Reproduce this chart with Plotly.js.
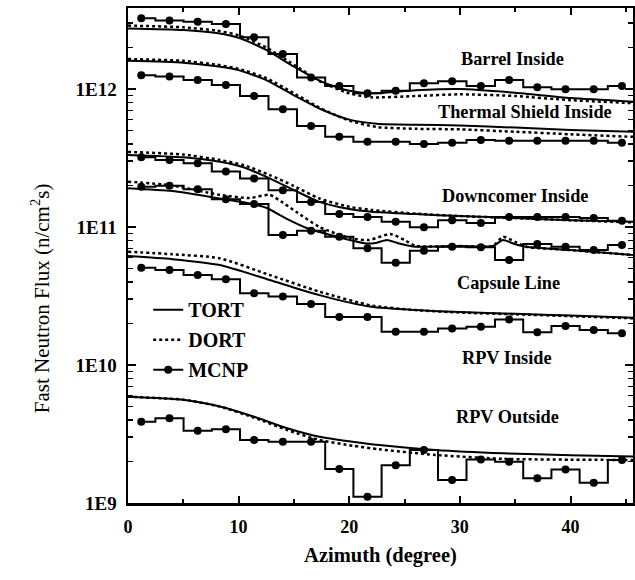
<!DOCTYPE html>
<html>
<head>
<meta charset="utf-8">
<script src="https://cdn.plot.ly/plotly-3.0.1.min.js"></script>
<style>html,body{margin:0;padding:0;background:#fff;}#chart{width:635px;height:580px;}</style>
</head>
<body>
<div id="chart"></div>
<script>
// MCNP tally bin centres (degrees)
const mcnpAz = [1.2, 3.75, 6.3, 8.85, 11.4, 14.0, 16.55, 19.1, 21.65, 24.2, 26.75, 29.3, 31.9, 34.45, 37.0, 39.55, 42.1, 44.65];

// Barrel Inside
const barrelAz = [0, 5, 8, 10, 12.5, 15, 17.5, 20, 22, 26, 30, 35, 40, 45.65];
const barrelTort = [2.75e12, 2.68e12, 2.55e12, 2.35e12, 1.92e12, 1.45e12, 1.13e12, 9.7e11, 9.3e11, 9.8e11, 1.0e12, 9.4e11, 8.6e11, 8.1e11];
const barrelDort = [2.88e12, 2.8e12, 2.65e12, 2.45e12, 2.0e12, 1.5e12, 1.12e12, 9.3e11, 8.7e11, 8.9e11, 9.15e11, 8.9e11, 8.3e11, 7.9e11];
const barrelMcnp = [3.25e12, 3.13e12, 3.07e12, 2.96e12, 2.37e12, 1.79e12, 1.21e12, 1.05e12, 9.3e11, 9.7e11, 1.10e12, 1.14e12, 1.05e12, 1.16e12, 1.03e12, 9.95e11, 9.95e11, 1.05e12];

// Thermal Shield Inside
const thermalAz = [0, 5, 8, 10, 12.5, 15, 17.5, 20, 22.5, 26, 30, 35, 40, 45.65];
const thermalTort = [1.6e12, 1.55e12, 1.46e12, 1.37e12, 1.16e12, 9.0e11, 7.1e11, 6.0e11, 5.6e11, 5.5e11, 5.45e11, 5.25e11, 5.05e11, 4.9e11];
const thermalDort = [1.65e12, 1.6e12, 1.5e12, 1.4e12, 1.2e12, 9.3e11, 7.2e11, 5.9e11, 5.3e11, 5.15e11, 5.1e11, 4.9e11, 4.7e11, 4.5e11];
const thermalMcnp = [1.26e12, 1.23e12, 1.16e12, 1.07e12, 8.9e11, 7.13e11, 5.4e11, 4.5e11, 4.15e11, 4.15e11, 3.99e11, 4.08e11, 4.27e11, 4.22e11, 4.22e11, 4.22e11, 4.22e11, 4.08e11];

// Downcomer Inside
const downAz = [0, 5, 8.3, 10.5, 12.8, 15, 17.3, 20, 22, 26, 30, 35, 40, 45.65];
const downTort = [3.33e11, 3.2e11, 2.97e11, 2.7e11, 2.25e11, 1.85e11, 1.52e11, 1.35e11, 1.29e11, 1.24e11, 1.2e11, 1.16e11, 1.12e11, 1.09e11];
const downDort = [3.5e11, 3.35e11, 3.06e11, 2.8e11, 2.38e11, 1.98e11, 1.61e11, 1.4e11, 1.33e11, 1.25e11, 1.2e11, 1.16e11, 1.12e11, 1.08e11];
const downMcnp = [3.20e11, 3.06e11, 2.90e11, 2.52e11, 2.25e11, 1.85e11, 1.52e11, 1.24e11, 1.18e11, 1.09e11, 9.95e10, 1.12e11, 1.07e11, 1.18e11, 1.18e11, 1.18e11, 1.16e11, 1.11e11];

// Capsule Line
const capTortAz = [0, 4, 8.3, 11, 12.5, 14.4, 16.2, 18.9, 21.5, 22.5, 23.4, 24.5, 26, 30, 33, 33.9, 35, 36, 40, 45.65];
const capTort = [1.91e11, 1.82e11, 1.61e11, 1.48e11, 1.38e11, 1.14e11, 9.8e10, 8.5e10, 7.6e10, 7.7e10, 8.05e10, 7.6e10, 7.2e10, 7.28e10, 7.28e10, 8.05e10, 7.5e10, 7.2e10, 6.8e10, 6.27e10];
const capDortAz = [0, 3.8, 8.3, 11, 12.8, 14, 15.2, 17.3, 20.1, 21.8, 23.7, 25, 26, 30, 33, 33.9, 35, 36, 40, 45.65];
const capDort = [2.13e11, 2.01e11, 1.71e11, 1.62e11, 1.71e11, 1.5e11, 1.29e11, 1.0e11, 8.3e10, 8.05e10, 8.9e10, 8.05e10, 7.3e10, 7.28e10, 7.3e10, 8.5e10, 7.8e10, 7.2e10, 6.8e10, 6.27e10];
const capMcnp = [1.96e11, 1.99e11, 1.88e11, 1.59e11, 1.47e11, 8.75e10, 9.4e10, 8.5e10, 7.01e10, 5.51e10, 6.73e10, 7.2e10, 7.13e10, 5.77e10, 7.53e10, 7.2e10, 6.81e10, 7.41e10];

// RPV Inside
const rpvInAz = [0, 4, 8.3, 12.8, 17.3, 22, 26, 30, 35, 40, 45.65];
const rpvInTort = [6.16e10, 5.85e10, 5.3e10, 4.13e10, 3.21e10, 2.64e10, 2.5e10, 2.42e10, 2.35e10, 2.28e10, 2.2e10];
const rpvInDort = [6.62e10, 6.35e10, 5.93e10, 4.49e10, 3.4e10, 2.7e10, 2.5e10, 2.4e10, 2.33e10, 2.26e10, 2.18e10];
const rpvInMcnp = [5.07e10, 4.88e10, 4.49e10, 4.18e10, 3.31e10, 3.13e10, 2.77e10, 2.23e10, 2.23e10, 1.74e10, 1.74e10, 1.84e10, 1.89e10, 2.14e10, 1.73e10, 1.92e10, 1.79e10, 1.70e10];

// RPV Outside
const rpvOutAz = [0, 5, 8.3, 11.4, 14.4, 17.3, 20.3, 22.7, 27.8, 33.9, 40, 45.65];
const rpvOutTort = [5.89e9, 5.6e9, 5.0e9, 4.22e9, 3.48e9, 3.02e9, 2.78e9, 2.63e9, 2.42e9, 2.29e9, 2.22e9, 2.17e9];
const rpvOutDort = [5.89e9, 5.6e9, 5.0e9, 4.15e9, 3.38e9, 2.86e9, 2.6e9, 2.45e9, 2.23e9, 2.09e9, 2.06e9, 2.05e9];
const rpvOutMcnp = [3.88e9, 4.11e9, 3.34e9, 3.42e9, 2.86e9, 2.78e9, 2.78e9, 1.76e9, 1.11e9, 1.88e9, 2.42e9, 1.47e9, 2.07e9, 1.99e9, 1.51e9, 1.75e9, 1.40e9, 2.05e9];

const regionLabels = ['Barrel Inside', 'Thermal Shield Inside', 'Downcomer Inside', 'Capsule Line', 'RPV Inside', 'RPV Outside'];
const labelAz = [34.8, 35.9, 35.0, 34.4, 34.3, 34.3];
const labelFlux = [1.65e12, 6.8e11, 1.68e11, 3.93e10, 1.125e10, 4.2e9];

const xTickVals = [0, 10, 20, 30, 40];
const xMinorVals = [5, 15, 25, 35, 45];
const yTickVals = [1e9, 1e10, 1e11, 1e12];
const yTickText = ['1E9', '1E10', '1E11', '1E12'];
const yTitle = 'Fast Neutron Flux (n/cm<sup>2</sup>s)';
const xTitle = 'Azimuth (degree)';

const groups = [
  {tAz: barrelAz, t: barrelTort, dAz: barrelAz, d: barrelDort, m: barrelMcnp},
  {tAz: thermalAz, t: thermalTort, dAz: thermalAz, d: thermalDort, m: thermalMcnp},
  {tAz: downAz, t: downTort, dAz: downAz, d: downDort, m: downMcnp},
  {tAz: capTortAz, t: capTort, dAz: capDortAz, d: capDort, m: capMcnp},
  {tAz: rpvInAz, t: rpvInTort, dAz: rpvInAz, d: rpvInDort, m: rpvInMcnp},
  {tAz: rpvOutAz, t: rpvOutTort, dAz: rpvOutAz, d: rpvOutDort, m: rpvOutMcnp}
];

const traces = [];
groups.forEach((g, i) => {
  traces.push({x: g.tAz, y: g.t, type: 'scatter', mode: 'lines', name: 'TORT', legendgroup: 'TORT', legendrank: 1,
    showlegend: i === 0, line: {color: 'black', width: 2, shape: 'spline', smoothing: 0.6}});
  traces.push({x: g.dAz, y: g.d, type: 'scatter', mode: 'lines', name: 'DORT', legendgroup: 'DORT', legendrank: 2,
    showlegend: i === 0, line: {color: 'black', width: 2.5, dash: 'dot', shape: 'spline', smoothing: 0.6}});
  traces.push({x: mcnpAz, y: g.m, type: 'scatter', mode: 'lines+markers', name: 'MCNP', legendgroup: 'MCNP', legendrank: 3,
    showlegend: i === 0, line: {color: 'black', width: 2, shape: 'hvh'}, marker: {color: 'black', size: 8, symbol: 'circle'}});
});

const yMinor = [];
for (let e = 9; e <= 12; e++) { for (let k = 2; k <= 9; k++) { const v = k * Math.pow(10, e); if (v < 3.9e12) yMinor.push(v); } }

const serif = 'Times New Roman';
const annotations = regionLabels.map((t, i) => ({
  x: labelAz[i], y: Math.log10(labelFlux[i]), xref: 'x', yref: 'y', text: t, showarrow: false,
  font: {family: serif, size: 18.3, color: '#000000', weight: 'bold'}
}));
annotations.push({x: -0.174, y: 0.414, xref: 'paper', yref: 'paper', text: yTitle, textangle: -90, showarrow: false,
  xanchor: 'center', yanchor: 'middle', font: {family: serif, size: 21, color: '#000000'}});

const layout = {
  width: 635, height: 580,
  margin: {l: 128, r: 2, t: 8, b: 77},
  paper_bgcolor: 'white', plot_bgcolor: 'white',
  font: {family: serif, color: '#000000'},
  showlegend: true,
  legend: {x: 0.04, y: 0.43, xanchor: 'left', yanchor: 'top', bgcolor: 'rgba(0,0,0,0)', borderwidth: 0,
    font: {family: serif, size: 20, color: '#000000', weight: 'bold'}, traceorder: 'grouped', tracegroupgap: 1},
  xaxis: {range: [0, 45.65], tickmode: 'array', tickvals: xTickVals, ticks: 'inside', ticklen: 7, tickwidth: 2,
    tickcolor: 'black', showline: true, linewidth: 2.5, linecolor: 'black', mirror: 'ticks', showgrid: false, zeroline: false,
    ticklabelstandoff: 6,
    tickfont: {family: serif, size: 18, color: '#000000', weight: 'bold'},
    minor: {tickmode: 'array', tickvals: xMinorVals, ticks: 'inside', ticklen: 4, tickwidth: 2, tickcolor: 'black', showgrid: false},
    title: {text: xTitle, font: {family: serif, size: 20.5, color: '#000000', weight: 'bold'}, standoff: 12}},
  yaxis: {type: 'log', range: [9, 12.587], tickmode: 'array', tickvals: yTickVals, ticktext: yTickText, ticks: 'inside', ticklen: 8, tickwidth: 2,
    tickcolor: 'black', showline: true, linewidth: 2.5, linecolor: 'black', mirror: 'ticks', showgrid: false, zeroline: false,
    ticklabelstandoff: 5,
    tickfont: {family: serif, size: 19, color: '#000000', weight: 'bold'},
    minor: {tickmode: 'array', tickvals: yMinor, ticks: 'inside', ticklen: 5, tickwidth: 1.5, tickcolor: 'black', showgrid: false}},
  annotations: annotations
};

Plotly.newPlot('chart', traces, layout, {displayModeBar: false, staticPlot: true});
</script>
</body>
</html>
